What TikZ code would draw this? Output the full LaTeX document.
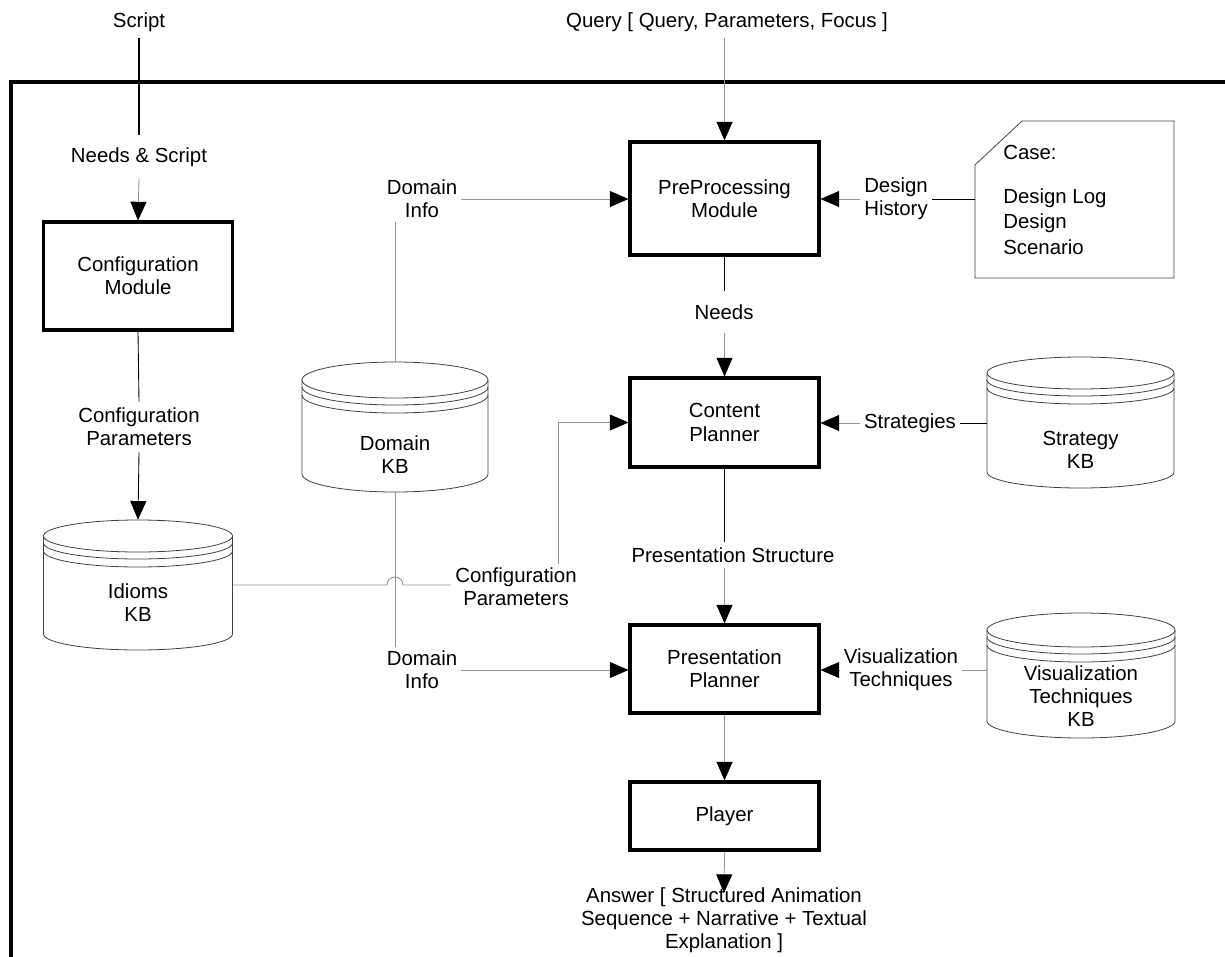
\documentclass[tikz,border=0pt]{standalone}
\usepackage{fontspec}
\setmainfont{Liberation Sans}
\usetikzlibrary{arrows.meta}
\newcommand\kbcyl[8]{% name, cx, top, bottom, half width, ry, text y, text
  \node[minimum width=#5*1.5pt, minimum height=(#4-#3)*0.75pt, inner sep=0pt] (#1) at (#2,{-(#3+#4)/2}) {};
  \draw[cyl] ({#2-#5},{-(#3+#6)}) -- ({#2-#5},{-(#4-#6)}) arc[start angle=180,end angle=360,x radius=#5,y radius=#6] -- ({#2+#5},{-(#3+#6)});
  \draw[cyl] (#2,{-(#3+#6)}) ellipse[x radius=#5, y radius=#6];
  \draw[cyl] ({#2-#5},{-(#3+#6+7)}) arc[start angle=180,end angle=360,x radius=#5,y radius=#6];
  \draw[cyl] ({#2-#5},{-(#3+#6+15)}) arc[start angle=180,end angle=360,x radius=#5,y radius=#6];
  \node[align=center, inner sep=0pt] (#1-t) at (#2,-#7) {#8};
}
\begin{document}
\begin{tikzpicture}[x=0.75pt,y=0.75pt,
  every node/.style={font=\fontsize{15.3}{17.4}\selectfont},
  box/.style={draw=black, line width=2.3pt, minimum width=141.75pt, align=center, inner sep=0pt},
  lbl/.style={align=center, inner xsep=3pt, inner ysep=3pt},
  gline/.style={draw=black!42, line width=0.65pt},
  bline/.style={draw=black, line width=0.65pt},
  arr/.style={-{Triangle[length=14pt,width=12pt,black]}},
  cyl/.style={draw=black!75, line width=0.6pt}
]
\useasboundingbox (0,0) rectangle (1225,-957);
% frame
\draw[line width=2.3pt] (1226,-82) -- (11,-82) -- (11,-958);

% left column
\node[lbl, inner ysep=5pt] (script) at (139,-22) {Script};
\node[lbl, inner ysep=9pt] (needsS) at (139,-157) {Needs \& Script};
\node[box, minimum height=81pt] (config) at (138,-276) {Configuration\\Module};
\node[lbl, inner ysep=4.5pt] (cfgA) at (139,-427) {Configuration\\Parameters};
\kbcyl{idioms}{138}{520}{650}{94.5}{16}{603}{Idioms\\KB}

% middle
\node[lbl] (cfgB) at (516,-587) {Configuration\\Parameters};
\node[lbl] (domA) at (422,-199) {Domain\\Info};
\node[lbl] (domB) at (422,-670) {Domain\\Info};
\kbcyl{domkb}{395}{362}{492}{93}{18}{455}{Domain\\KB}

% main column
\node[lbl, inner ysep=5pt] (query) at (727,-22) {Query [ Query, Parameters, Focus ]};
\node[box, minimum height=84.75pt] (pre) at (724.5,-198.5) {PreProcessing\\Module};
\node[lbl, inner ysep=10pt] (needs) at (724,-312) {Needs};
\node[box, minimum height=66.75pt] (content) at (724.5,-422.5) {Content\\Planner};
\node[lbl, inner ysep=4pt] (pstruct) at (733,-555) {Presentation Structure};
\node[box, minimum height=66pt] (pres) at (724.5,-669) {Presentation\\Planner};
\node[box, minimum height=51pt] (player) at (724.5,-816) {Player};
\node[lbl] (answer) at (724,-920) {Answer [ Structured Animation\\Sequence + Narrative + Textual\\Explanation ]};
\coordinate (anstip) at (724,-893);

% right column
\node[lbl] (hist) at (896,-199) {Design\\History};
\node[minimum width=149.25pt, minimum height=117.75pt, inner sep=0pt] (case) at (1074.5,-199.5) {};
\draw[cyl] (975,-165) -- (1022,-121) -- (1174,-121) -- (1174,-278) -- (975,-278) -- cycle;
\node[anchor=west, inner sep=0pt] (caseT) at (1003,-152) {Case:};
\node[anchor=west, inner sep=0pt] (caseL) at (1003,-198) {Design Log};
\node[anchor=north west, align=left, inner sep=0pt, font=\fontsize{15.3}{20}\selectfont] (caseS) at (1003,-213) {Design\\Scenario};
\node[lbl] (strat) at (910,-423) {Strategies};
\kbcyl{stratkb}{1080.5}{357}{488}{93.5}{16}{450}{Strategy\\KB}
\node[lbl] (vis) at (901,-670) {Visualization\\Techniques};
\kbcyl{viskb}{1081}{613}{738}{94}{17}{696}{Visualization\\Techniques\\KB}

% connectors
\draw[bline, line width=1.2pt] (script.south) -- (needsS.north);
\draw[gline, arr] (needsS.south) -- (config.north);
\draw[bline] (config.south) -- (cfgA.north);
\draw[bline, arr] (cfgA.south) -- (idioms.north);
\draw[gline] (idioms.east) -- ([xshift=-6pt]domkb.south |- idioms.east) arc[start angle=180,end angle=0,radius=8] -- (cfgB.west |- idioms.east);
\draw[gline, arr] ([xshift=31.5pt]cfgB.north) |- (content.west);
\draw[gline, arr] (domA.east) -- (domA.east -| pre.west);
\draw[gline] (domkb.north) -- (domkb.north |- domA.south);
\draw[gline] (domkb.south) -- (domkb.south |- domB.north);
\draw[gline, arr] (domB.east) -- (domB.east -| pres.west);
\draw[gline, arr] (pre.north |- query.south) -- (pre.north);
\draw[bline] (hist.east) -- (hist.east -| case.west);
\draw[gline, arr] (hist.west) -- (hist.west -| pre.east);
\draw[bline] (pre.south) -- (pre.south |- needs.north);
\draw[gline, arr] (pre.south |- needs.south) -- (content.north);
\draw[bline] (strat.east) -- (strat.east -| stratkb.west);
\draw[gline, arr] (strat.west) -- (strat.west -| content.east);
\draw[bline] (content.south) -- (content.south |- pstruct.north);
\draw[gline, arr] (content.south |- pstruct.south) -- (pres.north);
\draw[gline] (vis.east) -- (vis.east -| viskb.west);
\draw[gline, arr] (vis.west) -- (vis.west -| pres.east);
\draw[gline, arr] (pres.south) -- (player.north);
\draw[gline, arr] (player.south) -- (anstip);
\end{tikzpicture}
\end{document}
